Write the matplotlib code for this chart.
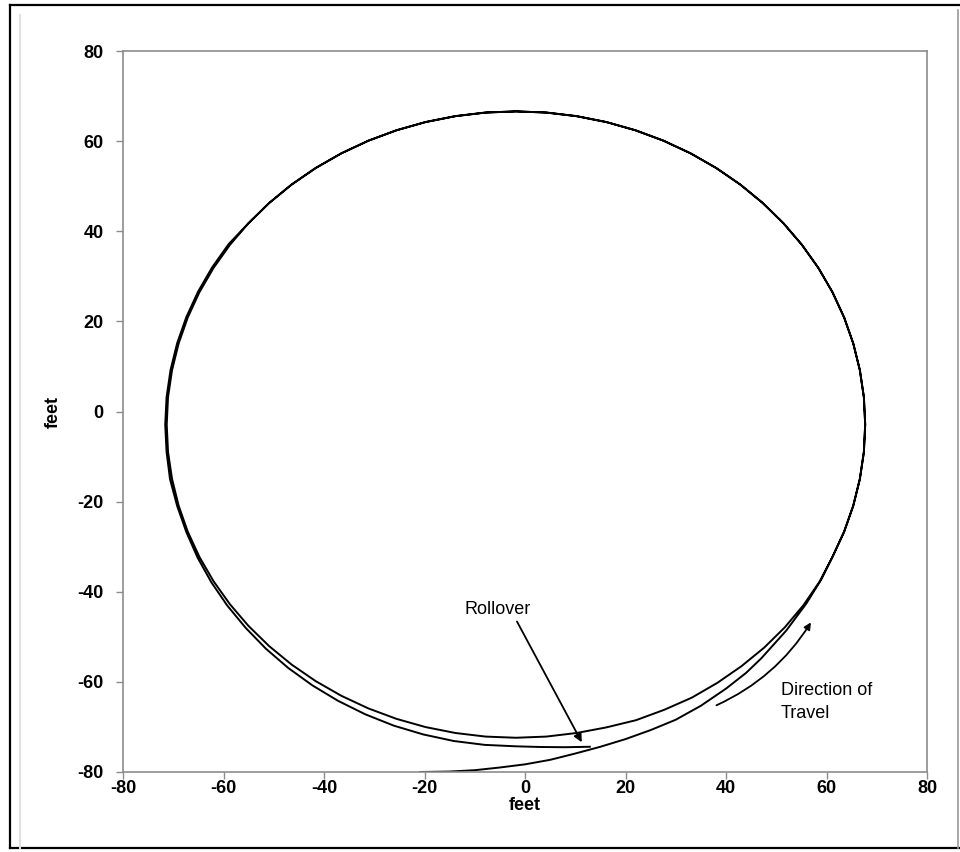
import matplotlib.pyplot as plt
from matplotlib.lines import Line2D

plt.rcParams["font.family"] = ["Liberation Sans", "DejaVu Sans"]

# vehicle path (feet)
# run-in from the bottom edge up to where it joins the circle
entry_x = [-20.9, -15.0, -10.0, -5.0, 0.0, 5.0, 10.0, 15.0, 20.0, 25.0, 30.0, 35.0,
           40.0, 44.0, 47.0, 52.0, 56.0, 59.0]
entry_y = [-80.0, -79.9, -79.6, -79.0, -78.3, -77.3, -75.9, -74.4, -72.7, -70.7, -68.4, -65.3,
           -61.5, -58.0, -54.8, -48.6, -42.6, -37.2]

# first lap
lap1_x = [61.19, 63.51, 65.33, 66.64, 67.44, 67.70, 67.44, 66.64, 65.33, 63.51, 61.19, 58.39,
          55.13, 51.44, 47.34, 42.87, 38.06, 32.95, 27.57, 21.97, 16.19, 10.27, 4.26, -1.80,
          -7.86, -13.87, -19.79, -25.57, -31.17, -36.55, -41.66, -46.47, -50.94, -55.04, -58.73, -61.99,
          -64.79, -67.11, -68.93, -70.24, -71.04, -71.30, -71.04, -70.24, -68.93, -67.11, -64.79, -61.99,
          -58.73, -55.04, -50.94, -46.47, -41.66, -36.55, -31.17, -25.57, -19.79, -13.87, -7.86, -1.80,
          4.26, 10.27, 16.19, 22.10, 27.70, 33.20, 38.30, 43.10, 47.60, 51.70, 55.40, 58.60]
lap1_y = [-32.27, -26.67, -20.89, -14.97, -8.96, -2.90, 3.16, 9.17, 15.09, 20.87, 26.47, 31.85,
          36.96, 41.77, 46.24, 50.34, 54.03, 57.29, 60.09, 62.41, 64.23, 65.54, 66.34, 66.60,
          66.34, 65.54, 64.23, 62.41, 60.09, 57.29, 54.03, 50.34, 46.24, 41.77, 36.96, 31.85,
          26.47, 20.87, 15.09, 9.17, 3.16, -2.90, -8.96, -14.97, -20.89, -26.67, -32.27, -37.65,
          -42.76, -47.57, -52.04, -56.14, -59.83, -63.09, -65.89, -68.21, -70.03, -71.34, -72.14, -72.40,
          -72.14, -71.34, -70.10, -68.50, -66.20, -63.50, -60.20, -56.50, -52.40, -47.90, -43.00, -37.80]

# second lap, drifting outward at the bottom and ending at the rollover point
lap2_x = [61.19, 63.51, 65.33, 66.64, 67.44, 67.70, 67.44, 66.64, 65.33, 63.51, 61.19, 58.39,
          55.13, 51.44, 47.34, 42.87, 38.06, 32.95, 27.57, 21.97, 16.19, 10.27, 4.26, -1.80,
          -7.86, -13.87, -19.79, -25.57, -31.17, -36.55, -41.66, -46.47, -50.94, -55.04, -58.98, -62.25,
          -65.06, -67.39, -69.22, -70.54, -71.33, -71.60, -71.33, -70.64, -69.22, -67.39, -65.15, -62.42,
          -59.22, -55.58, -51.55, -47.12, -42.32, -37.20, -31.78, -26.12, -20.23, -14.18, -8.02, -1.80,
          3.00, 8.00, 12.90]
lap2_y = [-32.27, -26.67, -20.89, -14.97, -8.96, -2.90, 3.16, 9.17, 15.09, 20.87, 26.47, 31.85,
          36.96, 41.77, 46.24, 50.34, 54.03, 57.29, 60.09, 62.41, 64.23, 65.54, 66.34, 66.60,
          66.34, 65.54, 64.23, 62.41, 60.09, 57.29, 54.03, 50.34, 46.24, 41.77, 37.14, 32.00,
          26.60, 20.97, 15.17, 9.22, 3.18, -2.90, -8.98, -15.04, -20.97, -26.77, -32.44, -37.90,
          -43.11, -48.02, -52.65, -56.91, -60.77, -64.21, -67.20, -69.71, -71.67, -73.12, -73.98, -74.30,
          -74.45, -74.50, -74.40]

path_x = entry_x + lap1_x + lap2_x
path_y = entry_y + lap1_y + lap2_y

ticks = [-80, -60, -40, -20, 0, 20, 40, 60, 80]

fig = plt.figure(figsize=(9.6, 8.52), dpi=100)
ax = fig.add_axes([123 / 960, 80 / 852, 804 / 960, 721 / 852])

ax.plot(path_x, path_y, color="black", linewidth=1.4)

ax.set_xlim(-80, 80)
ax.set_ylim(-80, 80)
ax.set_xticks(ticks)
ax.set_yticks(ticks)
ax.set_xticklabels([str(t) for t in ticks], fontweight="bold", fontsize=13)
ax.set_yticklabels([str(t) for t in ticks], fontweight="bold", fontsize=13)
ax.tick_params(axis="x", direction="out", length=5, width=1, color="#8c8c8c", pad=1)
ax.tick_params(axis="y", direction="out", length=5, width=1, color="#8c8c8c", pad=9)
for s in ax.spines.values():
    s.set_color("#8c8c8c")
    s.set_linewidth(1.2)

ax.set_xlabel("feet", fontweight="bold", fontsize=13)
ax.set_ylabel("feet", fontweight="bold", fontsize=13)
ax.xaxis.set_label_coords(0.5, -0.034)
ax.yaxis.set_label_coords(-0.076, 0.5)

# annotations
ax.text(-5.4, -43.9, "Rollover", fontsize=13, ha="center", va="center")
ax.annotate("", xy=(11.3, -73.4), xytext=(-1.6, -46.6),
            arrowprops=dict(arrowstyle="-|>", color="black", lw=1.3,
                            mutation_scale=12, shrinkA=0, shrinkB=0))
ax.text(50.9, -64.5, "Direction of\nTravel", fontsize=13, ha="left", va="center",
        linespacing=1.45)
ax.annotate("", xy=(56.9, -46.8), xytext=(38.1, -65.2),
            arrowprops=dict(arrowstyle="-|>", color="black", lw=1.3,
                            mutation_scale=10, shrinkA=0, shrinkB=0,
                            connectionstyle="arc3,rad=0.15"))

# page frame around the chart
W, H = 960, 852
def px_line(x0, y0, x1, y1, color, lw):
    fig.add_artist(Line2D([x0 / W, x1 / W], [1 - y0 / H, 1 - y1 / H],
                          transform=fig.transFigure, color=color, linewidth=lw))

px_line(10, 5, 960, 5, "black", 1.6)
px_line(10, 5, 10, 848, "black", 1.6)
px_line(10, 848, 960, 848, "black", 1.6)
px_line(958, 10, 958, 848, "#9a9a9a", 1.2)
px_line(20, 15, 20, 848, "#e0e0e0", 1.5)

fig.savefig("out.png", dpi=100)
